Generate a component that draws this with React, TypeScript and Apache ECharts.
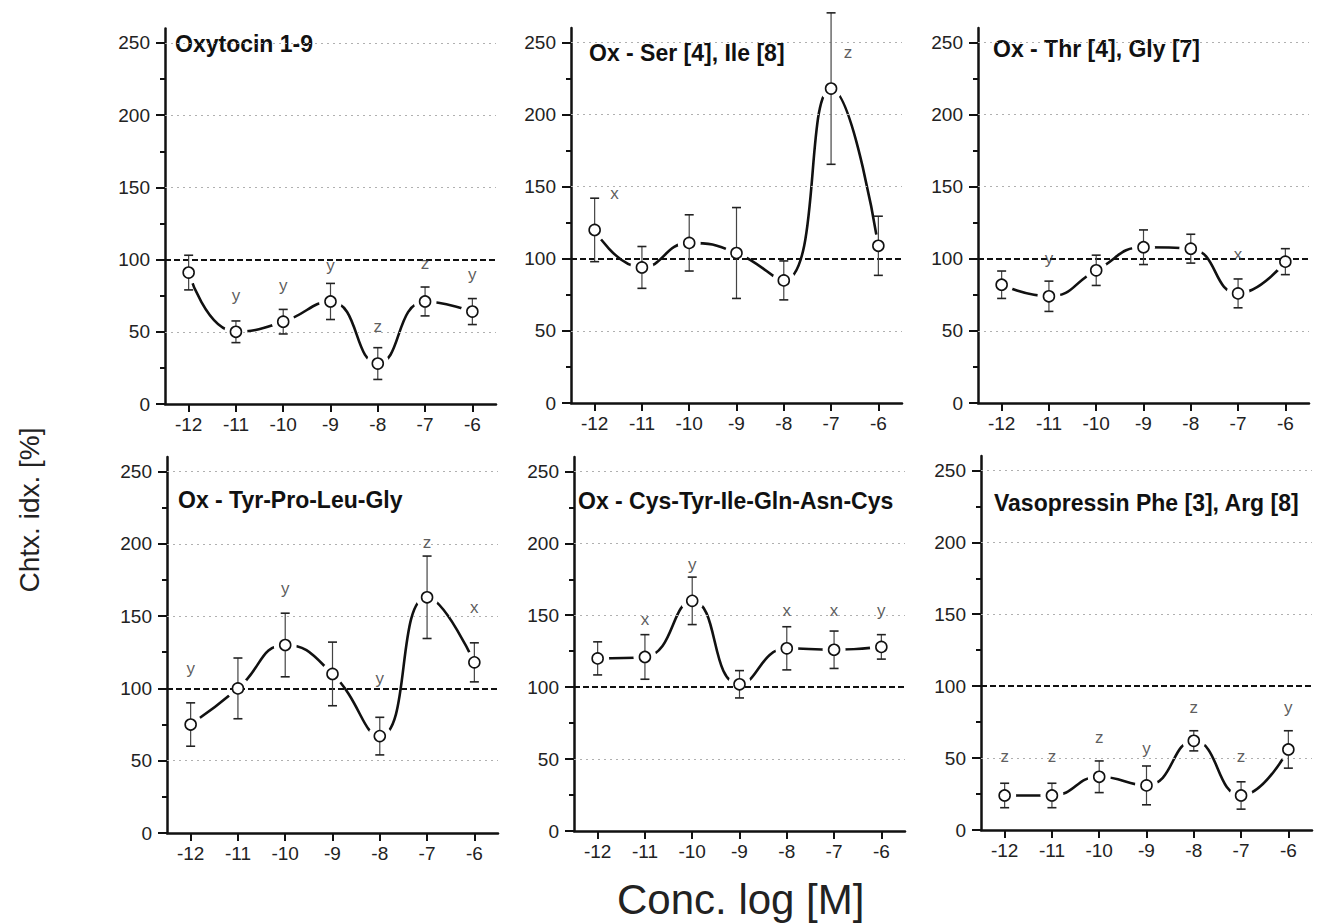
import React, { useEffect, useRef } from 'react';
import * as echarts from 'echarts';

// ---- data ----
const concentrations = [-12, -11, -10, -9, -8, -7, -6];
const xTickValues = [-12, -11, -10, -9, -8, -7, -6];
const yTickValues = [0, 50, 100, 150, 200, 250];
const yMinorTickValues = [25, 75, 125, 175, 225];
const gridLineValues = [50, 150, 200, 250];
const referenceLevel = 100;

const panelTitles = [
  'Oxytocin 1-9',
  'Ox - Ser [4], Ile [8]',
  'Ox - Thr [4], Gly [7]',
  'Ox - Tyr-Pro-Leu-Gly',
  'Ox - Cys-Tyr-Ile-Gln-Asn-Cys',
  'Vasopressin Phe [3], Arg [8]',
];

const oxytocinMean = [91, 50, 57, 71, 28, 71, 64];
const oxytocinErr = [12, 7.5, 8.5, 12.5, 11, 10, 9];
const serIleMean = [120, 94, 111, 104, 85, 218, 109];
const serIleErr = [22, 14.5, 19.5, 31.5, 13.5, 52.5, 20.5];
const thrGlyMean = [82, 74, 92, 108, 107, 76, 98];
const thrGlyErr = [9.5, 10.5, 10.5, 12, 10, 10, 9];
const tyrProLeuGlyMean = [75, 100, 130, 110, 67, 163, 118];
const tyrProLeuGlyErr = [15, 21, 22, 22, 13, 28.5, 13.5];
const cysRingMean = [120, 121, 160, 102, 127, 126, 128];
const cysRingErr = [11.5, 15.5, 16.5, 9.5, 15, 13, 8.5];
const vasopressinMean = [24, 24, 37, 31, 62, 24, 56];
const vasopressinErr = [8.5, 8.5, 11, 13.5, 7, 9.5, 13];

// significance letters: [x, y, letter]
const oxytocinLetters: [number, number, string][] = [
  [-11, 75, 'y'], [-10, 82, 'y'], [-9, 96, 'y'], [-8, 54, 'z'], [-7, 97, 'z'], [-6, 90, 'y'],
];
const serIleLetters: [number, number, string][] = [[-11.58, 145, 'x'], [-6.64, 243, 'z']];
const thrGlyLetters: [number, number, string][] = [[-11, 100, 'y'], [-7, 103, 'x']];
const tyrProLeuGlyLetters: [number, number, string][] = [
  [-12, 114, 'y'], [-10, 169, 'y'], [-8, 107, 'y'], [-7, 201, 'z'], [-6, 156, 'x'],
];
const cysRingLetters: [number, number, string][] = [
  [-11, 147, 'x'], [-10, 185, 'y'], [-8, 153, 'x'], [-7, 153, 'x'], [-6, 153, 'y'],
];
const vasopressinLetters: [number, number, string][] = [
  [-12, 51, 'z'], [-11, 51, 'z'], [-10, 64, 'z'], [-9, 57, 'y'], [-8, 85, 'z'], [-7, 51, 'z'], [-6, 85, 'y'],
];

const panelMeans = [oxytocinMean, serIleMean, thrGlyMean, tyrProLeuGlyMean, cysRingMean, vasopressinMean];
const panelErrs = [oxytocinErr, serIleErr, thrGlyErr, tyrProLeuGlyErr, cysRingErr, vasopressinErr];
const panelLetters = [oxytocinLetters, serIleLetters, thrGlyLetters, tyrProLeuGlyLetters, cysRingLetters, vasopressinLetters];

const yAxisName = 'Chtx. idx. [%]';
const xAxisName = 'Conc. log [M]';

// ---- layout ----
const FONT = '"Liberation Sans", Arial, Helvetica, sans-serif';
const grids = [
  { left: 165, top: 28.5, width: 331, height: 375.5 },
  { left: 571, top: 28, width: 331, height: 375 },
  { left: 978, top: 28, width: 331, height: 375 },
  { left: 167, top: 457, width: 331, height: 376 },
  { left: 574, top: 457, width: 331, height: 374 },
  { left: 981, top: 456, width: 331, height: 374 },
];
const titlePos = [
  [175, 44], [589, 53], [993, 49], [178, 500], [578, 501], [994, 503],
];

function buildOption() {
  const xAxis: any[] = [];
  const yAxis: any[] = [];
  const series: any[] = [];
  const graphic: any[] = [];

  grids.forEach((g, i) => {
    xAxis.push({
      type: 'value', gridIndex: i, min: -12.5, max: -5.5,
      axisLine: { show: true, onZero: false, lineStyle: { color: '#111', width: 2.5 } },
      axisTick: { show: true, customValues: xTickValues, length: 8, lineStyle: { color: '#111', width: 2 } },
      axisLabel: { show: true, customValues: xTickValues, fontSize: 19, color: '#222', margin: 11, fontFamily: FONT },
      splitLine: { show: false },
    });
    yAxis.push({
      type: 'value', gridIndex: i, min: 0, max: 260, position: 'left',
      axisLine: { show: true, onZero: false, lineStyle: { color: '#111', width: 2.5 } },
      axisTick: { show: true, customValues: yTickValues, length: 9, lineStyle: { color: '#111', width: 2 } },
      axisLabel: { show: true, customValues: yTickValues, fontSize: 19, color: '#222', margin: 15, fontFamily: FONT },
      splitLine: { show: false },
    });
    yAxis.push({
      type: 'value', gridIndex: i, min: 0, max: 260, position: 'left', offset: 0,
      axisLine: { show: false },
      axisTick: { show: true, customValues: yMinorTickValues, length: 5, lineStyle: { color: '#111', width: 2 } },
      axisLabel: { show: false },
      splitLine: { show: false },
    });

    const yi = 2 * i;
    const pts = concentrations.map((c, k) => [c, panelMeans[i][k]]);
    const errPts = concentrations.map((c, k) => [c, panelMeans[i][k], panelErrs[i][k]]);

    // dotted grid lines
    series.push({
      type: 'line', xAxisIndex: i, yAxisIndex: yi, data: [], z: 1, silent: true,
      markLine: {
        silent: true, symbol: 'none', animation: false,
        label: { show: false },
        lineStyle: { color: '#b0b0b0', width: 1, type: [2, 4] },
        data: gridLineValues.map((v) => ({ yAxis: v })),
      },
    });
    // smooth curve
    series.push({
      type: 'line', xAxisIndex: i, yAxisIndex: yi, data: pts, smooth: 0.5,
      showSymbol: false, symbol: 'none', z: 2, silent: true,
      lineStyle: { color: '#111', width: 2.6 },
    });
    // white gaps around the points
    series.push({
      type: 'scatter', xAxisIndex: i, yAxisIndex: yi, data: pts, z: 3, silent: true,
      symbol: 'circle', symbolSize: 23, itemStyle: { color: '#fff', opacity: 1 },
    });
    // reference line at 100
    series.push({
      type: 'line', xAxisIndex: i, yAxisIndex: yi, data: [], z: 4, silent: true,
      markLine: {
        silent: true, symbol: 'none', animation: false,
        label: { show: false },
        lineStyle: { color: '#111', width: 1.8, type: [6, 3] },
        data: [{ yAxis: referenceLevel }],
      },
    });
    // error bars
    series.push({
      type: 'custom', xAxisIndex: i, yAxisIndex: yi, data: errPts, z: 5, silent: true,
      encode: { x: 0, y: 1 },
      clip: false,
      renderItem: (params: any, api: any) => {
        const x = api.value(0);
        const y = api.value(1);
        const e = api.value(2);
        const top = api.coord([x, y + e]);
        const bot = api.coord([x, y - e]);
        const cap = 4.5;
        const style = { stroke: '#444', lineWidth: 1.2 };
        return {
          type: 'group',
          children: [
            { type: 'line', shape: { x1: top[0], y1: top[1], x2: bot[0], y2: bot[1] }, style },
            { type: 'line', shape: { x1: top[0] - cap, y1: top[1], x2: top[0] + cap, y2: top[1] }, style: { stroke: '#222', lineWidth: 1.6 } },
            { type: 'line', shape: { x1: bot[0] - cap, y1: bot[1], x2: bot[0] + cap, y2: bot[1] }, style: { stroke: '#222', lineWidth: 1.6 } },
          ],
        };
      },
    });
    // open circle markers
    series.push({
      type: 'scatter', xAxisIndex: i, yAxisIndex: yi, data: pts, z: 6, silent: true,
      symbol: 'circle', symbolSize: 11,
      itemStyle: { color: '#fff', borderColor: '#111', borderWidth: 1.6, opacity: 1 },
    });
    // significance letters
    series.push({
      type: 'scatter', xAxisIndex: i, yAxisIndex: yi, z: 7, silent: true,
      symbolSize: 0,
      data: panelLetters[i].map(([x, y, l]) => ({ name: l, value: [x, y] })),
      label: {
        show: true, position: 'inside', formatter: '{b}',
        fontSize: 17, color: '#333', fontFamily: FONT,
      },
    });

    graphic.push({
      type: 'text', x: titlePos[i][0], y: titlePos[i][1], silent: true,
      style: {
        text: panelTitles[i], fill: '#111', font: `bold 23px ${FONT}`,
        align: 'left', verticalAlign: 'middle',
      },
    });
  });

  graphic.push({
    type: 'text', x: 29, y: 510, rotation: Math.PI / 2, silent: true,
    style: { text: yAxisName, fill: '#222', font: `28px ${FONT}`, align: 'center', verticalAlign: 'middle' },
  });
  graphic.push({
    type: 'text', x: 617, y: 899, silent: true,
    style: { text: xAxisName, fill: '#222', font: `42px ${FONT}`, align: 'left', verticalAlign: 'middle' },
  });

  return {
    animation: false,
    backgroundColor: '#fff',
    grid: grids.map((g) => ({ ...g, containLabel: false })),
    xAxis,
    yAxis,
    series,
    graphic,
  };
}

export default function App() {
  const ref = useRef<HTMLDivElement>(null);
  useEffect(() => {
    if (!ref.current) return;
    const chart = echarts.init(ref.current, undefined, { renderer: 'svg' });
    chart.setOption(buildOption() as any);
    return () => chart.dispose();
  }, []);
  return (
    <div
      ref={ref}
      style={{ position: 'fixed', left: 0, top: 0, width: 1319, height: 923, background: '#fff' }}
    />
  );
}
